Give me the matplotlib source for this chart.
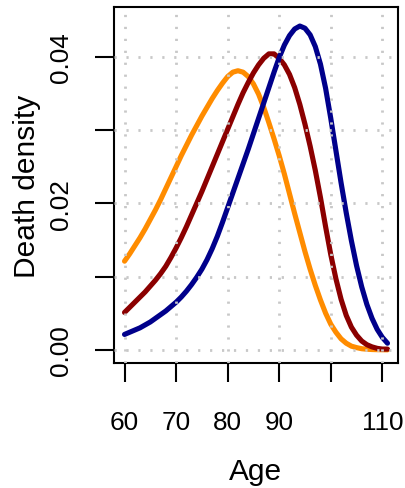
import matplotlib
matplotlib.use("Agg")
import matplotlib.pyplot as plt

plt.rcParams['font.family'] = ['Liberation Sans', 'DejaVu Sans']

age = list(range(60, 112))

dens_orange = [0.0121, 0.0131, 0.0142, 0.0153, 0.0165, 0.0178, 0.0191, 0.0205,
               0.0220, 0.0235, 0.0250, 0.0265, 0.0279, 0.0293, 0.0306, 0.0319,
               0.0331, 0.0343, 0.0354, 0.0364, 0.0373, 0.0379, 0.0381, 0.0379,
               0.0373, 0.0363, 0.0349, 0.0331, 0.0310, 0.0288, 0.0265, 0.0240,
               0.0213, 0.0186, 0.0160, 0.0134, 0.0110, 0.0088, 0.0068, 0.0050,
               0.0035, 0.0024, 0.0015, 0.0009, 0.0005, 0.0003, 0.00015, 0.00008,
               0.00004, 0.00002, 0.00001, 0.0]
dens_red = [0.0051, 0.0058, 0.0065, 0.0072, 0.0079, 0.0087, 0.0095, 0.0104,
            0.0114, 0.0126, 0.0139, 0.0153, 0.0168, 0.0184, 0.0200, 0.0216,
            0.0233, 0.0250, 0.0267, 0.0284, 0.0301, 0.0318, 0.0335, 0.0351,
            0.0365, 0.0378, 0.0389, 0.0398, 0.0404, 0.0404, 0.0398, 0.0389,
            0.0376, 0.0358, 0.0335, 0.0308, 0.0278, 0.0245, 0.0208, 0.0168,
            0.0130, 0.0097, 0.0069, 0.0047, 0.0031, 0.0020, 0.0012, 0.0007,
            0.0004, 0.0002, 0.0001, 0.0001]
dens_blue = [0.0021, 0.0024, 0.0027, 0.0030, 0.0034, 0.0038, 0.0043, 0.0048,
             0.0053, 0.0059, 0.0065, 0.0072, 0.0080, 0.0089, 0.0099, 0.0110,
             0.0123, 0.0138, 0.0155, 0.0174, 0.0194, 0.0214, 0.0234, 0.0254,
             0.0274, 0.0295, 0.0316, 0.0337, 0.0358, 0.0379, 0.0399, 0.0416,
             0.0429, 0.0438, 0.0442, 0.0439, 0.0430, 0.0414, 0.0390, 0.0357,
             0.0316, 0.0272, 0.0228, 0.0187, 0.0149, 0.0115, 0.0086, 0.0062,
             0.0043, 0.0028, 0.0017, 0.0009]

x_ticks = [60, 70, 80, 90, 100, 110]
x_labels = ["60", "70", "80", "90", "", "110"]
y_ticks = [0.0, 0.01, 0.02, 0.03, 0.04]
y_labels = ["0.00", "", "0.02", "", "0.04"]

fig = plt.figure(figsize=(4.06, 4.89), dpi=100)
ax = fig.add_axes([114 / 406, 125 / 489, 284 / 406, 356 / 489])

for d, c in [(dens_orange, "darkorange"), (dens_red, "darkred"), (dens_blue, "darkblue")]:
    ax.plot(age, d, color=c, lw=3.7, solid_capstyle="round", solid_joinstyle="round", zorder=2)

# R style dotted grid, drawn over the curves
grid_kw = dict(color="#c8c8c8", lw=2.0, linestyle=(0, (0.8, 3.5)), zorder=3)
for xv in x_ticks:
    ax.axvline(xv, **grid_kw)
for yv in y_ticks:
    ax.axhline(yv, **grid_kw)

ax.set_xlim(57.96, 113.04)
ax.set_ylim(-0.0018, 0.0468)

ax.set_xticks(x_ticks)
ax.set_xticklabels(x_labels)
ax.set_yticks(y_ticks)
ax.set_yticklabels(y_labels, rotation=90, va="center")
ax.tick_params(axis="both", direction="out", length=13.5, width=1.5, labelsize=18.8)
ax.tick_params(axis="x", pad=20)
ax.tick_params(axis="y", pad=16)

for s in ax.spines.values():
    s.set_linewidth(1.5)

ax.set_xlabel("Age", fontsize=21.5, va="center")
ax.xaxis.set_label_coords(0.5, -0.303)
ax.set_ylabel("Death density", fontsize=21.5, va="center")
ax.yaxis.set_label_coords(-0.306, 0.5)

fig.savefig("out.png", dpi=100)
